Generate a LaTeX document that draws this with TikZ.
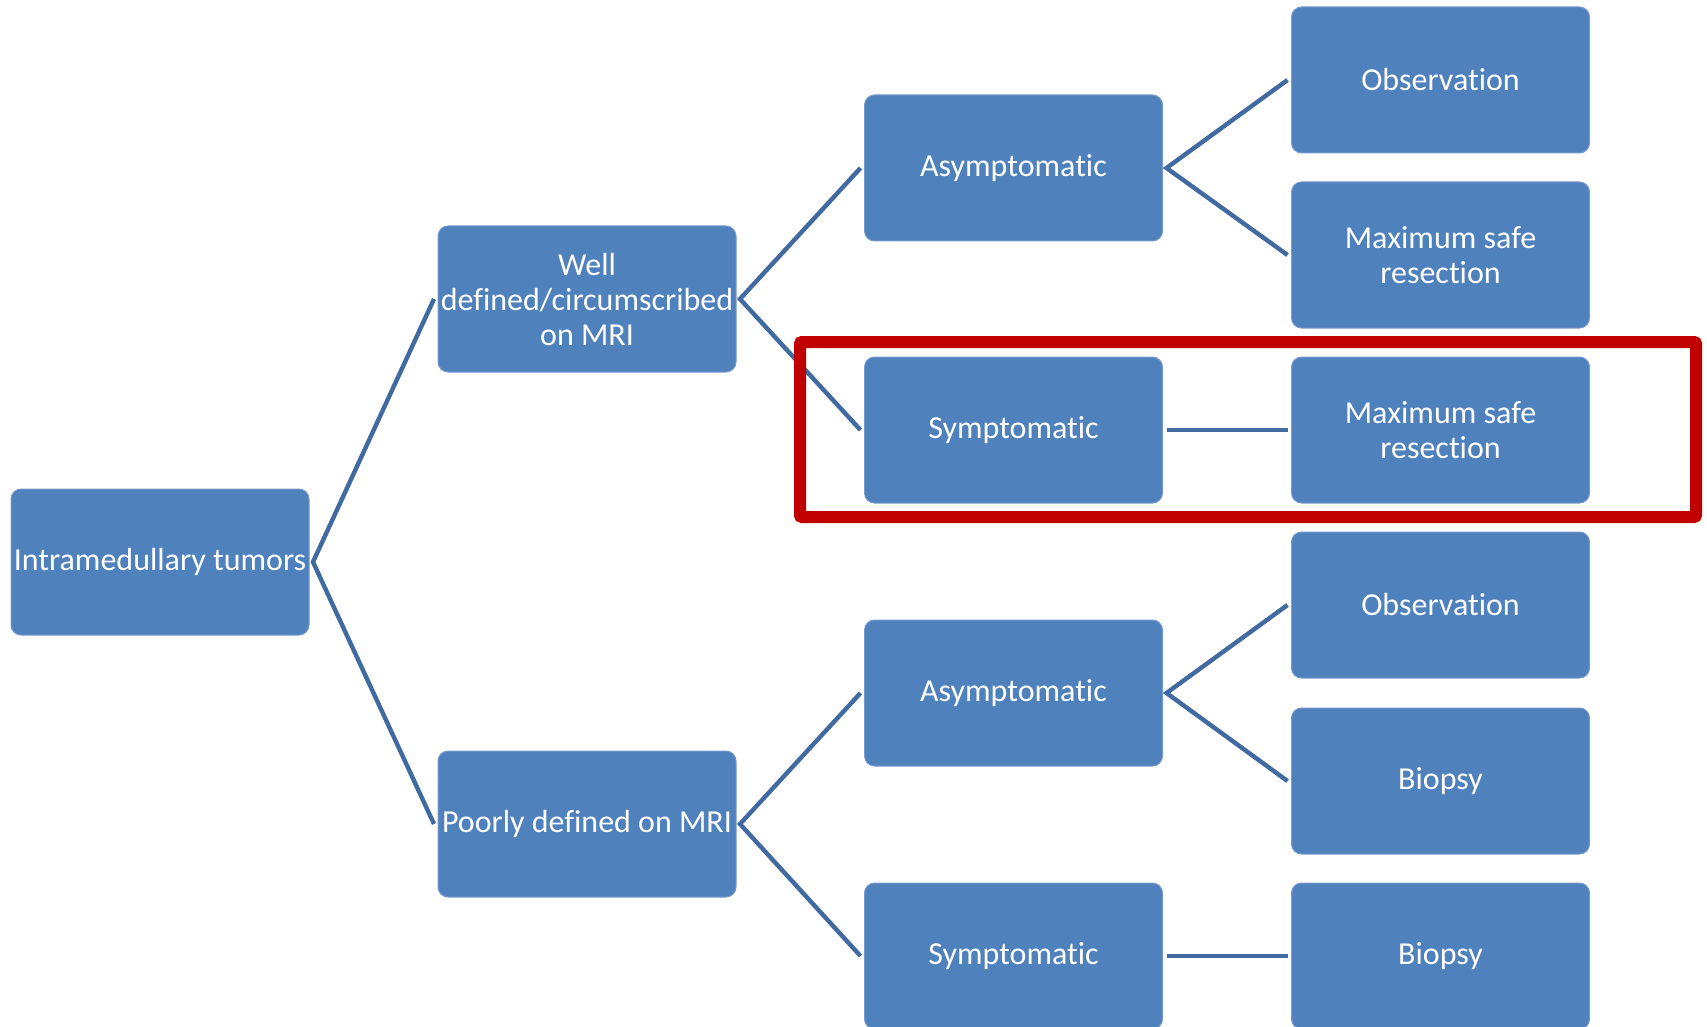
\documentclass[tikz,border=0pt]{standalone}
\usepackage{fontspec}
\setmainfont[RawFeature={-liga;-clig;-calt;-dlig}]{Carlito}
\definecolor{boxfill}{RGB}{79,129,189}
\definecolor{boxedge}{RGB}{120,155,205}
\definecolor{linkblue}{RGB}{64,106,160}
\definecolor{hired}{RGB}{192,0,0}
\tikzset{
  box/.style={draw=boxedge, line width=0.5pt, fill=boxfill, rounded corners=5pt,
    minimum width=149pt, minimum height=73pt, inner sep=0pt, outer sep=2pt,
    text=white, align=center, font=\fontsize{16pt}{17.5pt}\selectfont},
  link/.style={draw=linkblue, line width=2.2pt},
  highlight/.style={draw=hired, line width=6pt, rounded corners=1pt}
}
\begin{document}
\begin{tikzpicture}[x=0.5pt,y=-0.5pt]
\useasboundingbox (0,0) rectangle (1707,1027);
\node[box] (intra) at (160,562) {Intramedullary tumors};
\node[box] (well)  at (587,299) {Well\\defined/circumscribed\\on MRI};
\node[box] (poor)  at (587,824) {Poorly defined on MRI};
\node[box] (asym1) at (1013.5,168) {Asymptomat\kern0pt ic};
\node[box] (sym1)  at (1013.5,430) {Symptomat\kern0pt ic};
\node[box] (asym2) at (1013.5,693) {Asymptomat\kern0pt ic};
\node[box] (sym2)  at (1013.5,956) {Symptomat\kern0pt ic};
\node[box] (obs1)  at (1440.5,80)  {Observat\kern0pt ion};
\node[box] (max1)  at (1440.5,255) {Maximum safe\\resect\kern0pt ion};
\node[box] (max2)  at (1440.5,430) {Maximum safe\\resect\kern0pt ion};
\node[box] (obs2)  at (1440.5,605) {Observat\kern0pt ion};
\node[box] (bio1)  at (1440.5,781) {Biopsy};
\node[box] (bio2)  at (1440.5,956) {Biopsy};
\draw[link] (well.west) -- (intra.east) -- (poor.west);
\draw[link] (asym1.west) -- (well.east) -- (sym1.west);
\draw[link] (asym2.west) -- (poor.east) -- (sym2.west);
\draw[link] (obs1.west) -- (asym1.east) -- (max1.west);
\draw[link] (obs2.west) -- (asym2.east) -- (bio1.west);
\draw[link] (sym1.east) -- (max2.west);
\draw[link] (sym2.east) -- (bio2.west);
\coordinate (rA) at (800,342);
\coordinate (rB) at (1696,517);
\draw[highlight] (rA) rectangle (rB);
\end{tikzpicture}
\end{document}
